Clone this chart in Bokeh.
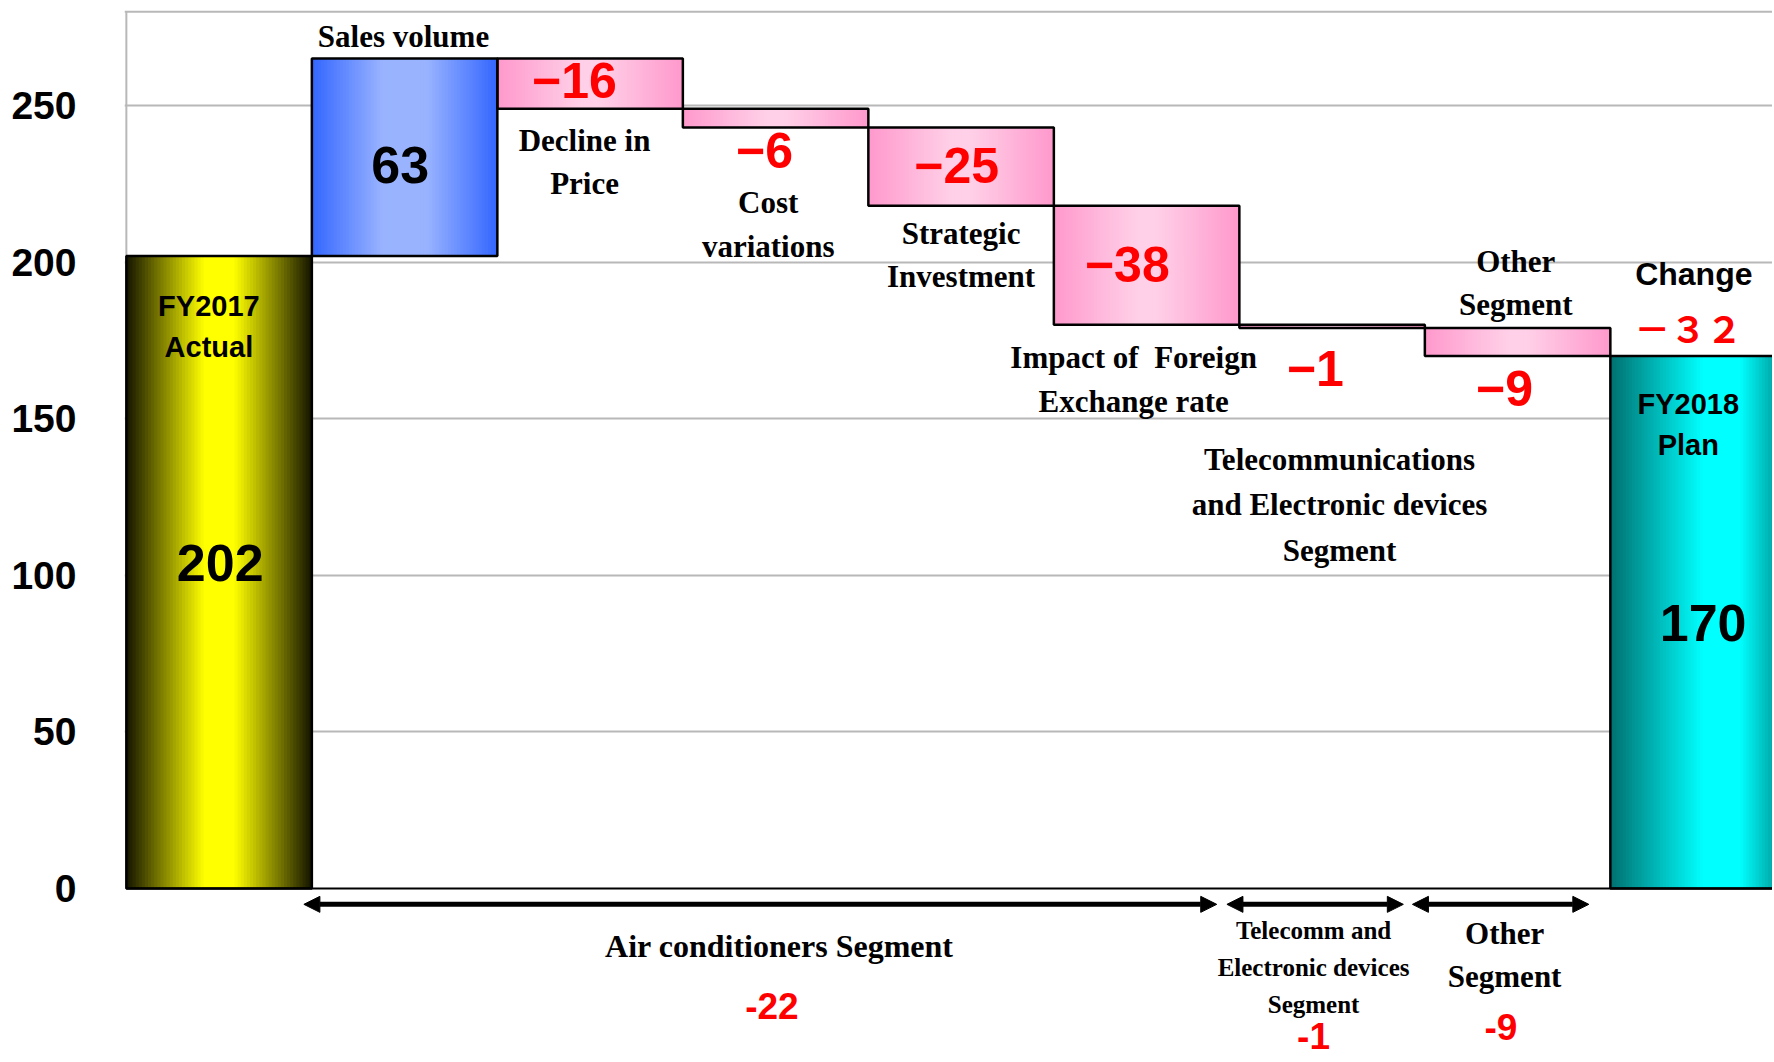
import numpy as np
from bokeh.plotting import figure
from bokeh.models import FixedTicker, Span, Arrow, NormalHead, Range1d
from bokeh.core.properties import value
from bokeh.embed import file_html
from bokeh.resources import INLINE

# ---------------- data ----------------
categories = ["FY2017 Actual", "Sales volume", "Decline in Price", "Cost variations",
              "Strategic Investment", "Impact of Foreign Exchange rate",
              "Telecommunications and Electronic devices Segment", "Other Segment", "FY2018 Plan"]
start_value = 202
changes = [63, -16, -6, -25, -38, -1, -9]
end_value = 170
segment_names = ["Air conditioners Segment", "Telecomm and\nElectronic devices\nSegment", "Other\nSegment"]
segment_totals = ["-22", "-1", "-9"]
change_total = "－３２"
y_ticks = [0, 50, 100, 150, 200, 250]

# ---------------- bar geometry ----------------
levels = np.concatenate([[start_value], start_value + np.cumsum(changes)])
bottoms = [0] + [min(levels[i], levels[i + 1]) for i in range(len(changes))] + [0]
tops = [start_value] + [max(levels[i], levels[i + 1]) for i in range(len(changes))] + [end_value]
lefts = np.arange(len(categories), dtype=float)
rights = lefts + 1.0

kinds = ["yellow", "blue"] + ["pink"] * 6 + ["teal"]
stops = {
    "yellow": [(0.0, (20, 20, 0)), (0.42, (255, 255, 0)), (0.58, (255, 255, 0)), (1.0, (20, 20, 0))],
    "blue": [(0.0, (51, 102, 255)), (0.38, (153, 179, 255)), (0.62, (153, 179, 255)), (1.0, (51, 102, 255))],
    "pink": [(0.0, (255, 153, 204)), (0.45, (255, 208, 232)), (0.55, (255, 208, 232)), (1.0, (255, 153, 204))],
    "teal": [(0.0, (0, 112, 112)), (0.5, (0, 255, 255)), (0.7, (0, 255, 255)), (1.0, (0, 112, 112))],
}


def grad_color(kind, t):
    st = stops[kind]
    for (t0, c0), (t1, c1) in zip(st[:-1], st[1:]):
        if t0 <= t <= t1:
            f = 0 if t1 == t0 else (t - t0) / (t1 - t0)
            c = [int(round(a + (b - a) * f)) for a, b in zip(c0, c1)]
            return "#%02x%02x%02x" % tuple(c)
    return "#%02x%02x%02x" % st[-1][1]


# ---------------- figure ----------------
W, H = 1772, 1058
px_per_unit_x = 185.5
px_per_unit_y = 3.1317
left_border = 124
top_border = 8
x0 = -0.01
x1 = x0 + (W - left_border) / px_per_unit_x
y1 = 281.0
y0 = y1 - (H - top_border) / px_per_unit_y

p = figure(width=W, height=H, output_backend="svg", toolbar_location=None,
           x_range=Range1d(x0, x1), y_range=Range1d(y0, y1),
           min_border_left=left_border, min_border_right=0, min_border_top=top_border,
           min_border_bottom=0)
p.outline_line_color = None
p.background_fill_color = "white"
p.border_fill_color = "white"
p.xaxis.visible = False
p.xgrid.visible = False
p.ygrid.ticker = FixedTicker(ticks=[t for t in y_ticks if t > 0])
p.ygrid.grid_line_color = "#b8b8b8"
p.ygrid.grid_line_width = 2

SANS = "Liberation Sans"
SERIF = "Liberation Serif"

ax = p.yaxis[0]
ax.ticker = FixedTicker(ticks=y_ticks)
ax.axis_line_color = None
ax.major_tick_line_color = None
ax.minor_tick_line_color = None
ax.major_tick_out = 0
ax.major_tick_in = 0
ax.major_label_standoff = 48
ax.major_label_text_font = SANS
ax.major_label_text_font_style = "bold"
ax.major_label_text_font_size = "39px"
ax.major_label_text_color = "black"

# frame borders
p.add_layout(Span(location=280, dimension="width", line_color="#b8b8b8", line_width=2))
p.segment(x0=[0], y0=[0], x1=[0], y1=[280], line_color="#b8b8b8", line_width=2)

# gradient strips
N = 60
sl, sr, sb, st_, sc = [], [], [], [], []
for i, k in enumerate(kinds):
    edges = np.linspace(lefts[i], rights[i], N + 1)
    w = edges[1] - edges[0]
    for j in range(N):
        t = (j + 0.5) / N
        sl.append(edges[j])
        sr.append(edges[j + 1] + (0.6 * w if j < N - 1 else 0))
        sb.append(bottoms[i])
        st_.append(tops[i])
        sc.append(grad_color(k, t))
p.quad(left=sl, right=sr, bottom=sb, top=st_, fill_color=sc, line_color=None)

# bar outlines
p.quad(left=lefts, right=rights, bottom=bottoms, top=tops, fill_color=None,
       line_color="black", line_width=2.5)

# zero axis line
p.segment(x0=[0], y0=[0], x1=[x1], y1=[0], line_color="black", line_width=2)


def txt(t, x, y, size, font=SERIF, color="black", lh=1.2, style="bold"):
    p.text(x=[x], y=[y], text=[t], text_font=value(font), text_font_size=f"{size}px",
           text_font_style=style, text_color=color, text_align="center",
           text_baseline="middle", text_line_height=lh)


# category labels
txt("Sales volume", 1.494, 272, 31)
txt("Decline in\nPrice", 2.47, 231.9, 31, lh=1.24)
txt("Cost\nvariations", 3.46, 212, 31, lh=1.24)
txt("Strategic\nInvestment", 4.5, 202.3, 31, lh=1.24)
txt("Impact of\u00a0 Foreign\nExchange rate", 5.43, 162.5, 31, lh=1.24)
txt("Other\nSegment", 7.49, 193.4, 31, lh=1.24)
txt("Telecommunications\nand Electronic devices\nSegment", 6.54, 122.5, 31, lh=1.3)

# totals
txt("FY2017\nActual", 0.445, 179.5, 29, font=SANS, lh=1.3)
txt(str(start_value), 0.506, 104, 52, font=SANS)
txt("FY2018\nPlan", 8.42, 148.2, 29, font=SANS, lh=1.3)
txt(str(end_value), 8.5, 84.9, 52, font=SANS)
txt("Change", 8.45, 196.2, 32, font=SANS)
txt(change_total, 8.42, 179.2, 36, font="Noto Sans CJK JP", color="red")

# change values
val_pos = [(1.476, 230.9), (2.415, 258), (3.44, 235.5), (4.476, 230.9),
           (5.396, 199.4), (6.41, 166.2), (7.43, 159.7)]
for v, (x, y) in zip(changes, val_pos):
    label = str(v) if v > 0 else "\u2212" + str(abs(v))
    txt(label, x, y, 52 if v > 0 else 50, font=SANS, color="black" if v > 0 else "red")

# segment arrows and labels
arrow_pos = [(0.957, 5.878), (5.933, 6.884), (6.933, 7.884)]
for xa, xb in arrow_pos:
    p.add_layout(Arrow(start=NormalHead(size=16, fill_color="black", line_color="black"),
                       end=NormalHead(size=16, fill_color="black", line_color="black"),
                       x_start=xa, y_start=-5.06, x_end=xb, y_end=-5.06,
                       line_width=5, line_color="black"))

txt(segment_names[0], 3.52, -18.4, 32)
txt(segment_names[1], 6.40, -25.3, 25, lh=1.38)
txt(segment_names[2], 7.43, -21.35, 31, lh=1.23)
seg_total_pos = [(3.48, -37.6), (6.40, -47.2), (7.41, -44.1)]
for t, (x, y) in zip(segment_totals, seg_total_pos):
    txt(t, x, y, 37, font=SANS, color="red")

open("out.html", "w").write(file_html(p, INLINE))
